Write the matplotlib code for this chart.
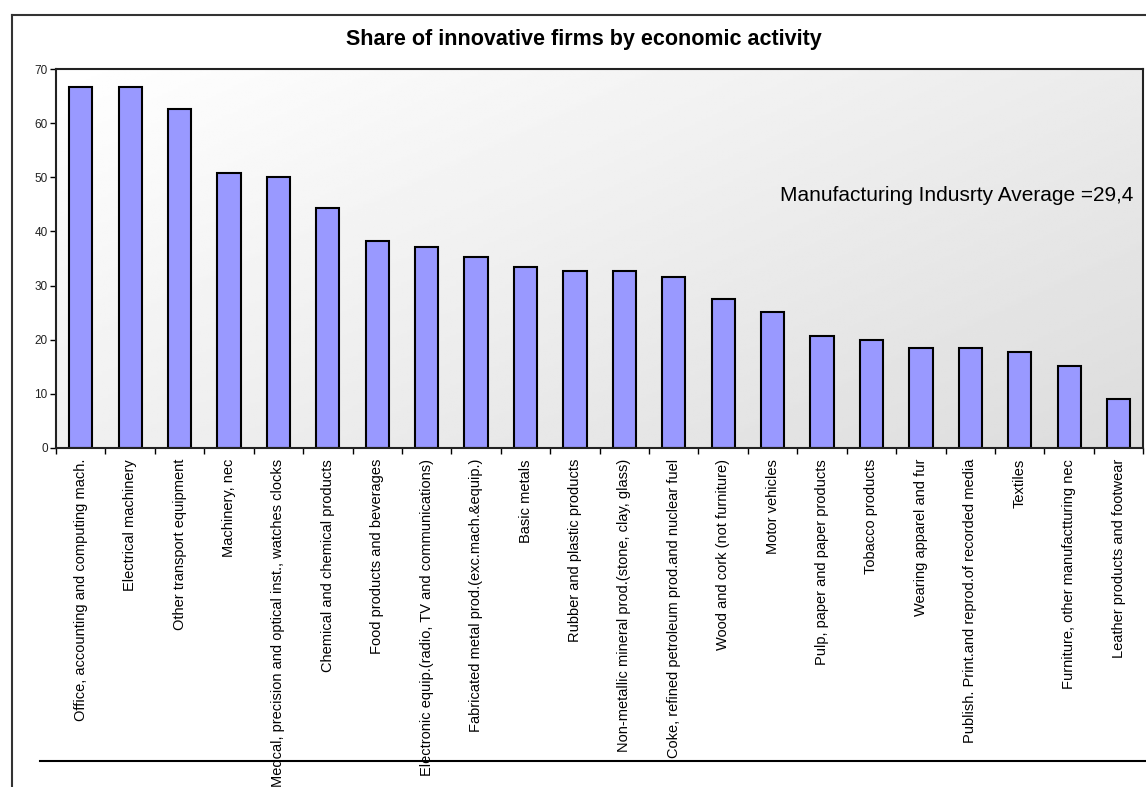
import numpy as np
import matplotlib.pyplot as plt
from matplotlib.lines import Line2D

plt.rcParams['font.family'] = ['Liberation Sans', 'DejaVu Sans']

# data
activities = [
    "Office, accounting and computing mach.",
    "Electrical machinery",
    "Other transport equipment",
    "Machinery, nec",
    "Medcal, precision and optical inst., watches clocks",
    "Chemical and chemical products",
    "Food products and beverages",
    "Electronic equip.(radio, TV and communications)",
    "Fabricated metal prod.(exc.mach.&equip.)",
    "Basic metals",
    "Rubber and plastic products",
    "Non-metallic mineral prod.(stone, clay, glass)",
    "Coke, refined petroleum prod.and nuclear fuel",
    "Wood and cork (not furniture)",
    "Motor vehicles",
    "Pulp, paper and paper products",
    "Tobacco products",
    "Wearing apparel and fur",
    "Publish. Print.and reprod.of recorded media",
    "Textiles",
    "Furniture, other manufactturing nec",
    "Leather products and footwear",
]
share = [66.6, 66.6, 62.6, 50.7, 50.0, 44.4, 38.2, 37.1, 35.2, 33.4, 32.6,
         32.6, 31.5, 27.5, 25.2, 20.7, 20.0, 18.5, 18.5, 17.8, 15.2, 9.0]
yticks = [0, 10, 20, 30, 40, 50, 60, 70]
title = "Share of innovative firms by economic activity"
note = "Manufacturing Indusrty Average =29,4"

fig = plt.figure(figsize=(11.46, 7.87), dpi=100)
ax = fig.add_axes([56/1146, 1-448/787, 1087.3/1146, 379/787])

# gradient background of the plot area
gx, gy = np.meshgrid(np.linspace(0, 1, 200), np.linspace(0, 1, 200))
shade = (255 - 20*gx - 15*gy) / 255.0
ax.imshow(shade, cmap='gray', vmin=0, vmax=1, extent=[0, 1, 0, 1],
          transform=ax.transAxes, aspect='auto', zorder=0, origin='upper')

x = np.arange(len(activities))
ax.bar(x, share, width=0.47, color='#9999ff', edgecolor='black',
       linewidth=1.5, zorder=2)

ax.set_xlim(-0.5, len(activities) - 0.5)
ax.set_ylim(0, 70)
ax.set_yticks(yticks)
ax.tick_params(axis='y', labelsize=8.5, length=4, width=1, direction='out', pad=2,
               labelcolor='#222222')

ax.set_xticks(x)
ax.set_xticklabels(activities, rotation=90, fontsize=10.5, va='top', ha='center')
ax.tick_params(axis='x', which='major', length=0, pad=8)
ax.set_xticks(np.arange(-0.5, len(activities)), minor=True)
ax.tick_params(axis='x', which='minor', length=4, width=1, direction='out')

for s in ax.spines.values():
    s.set_color('#222222')
    s.set_linewidth(1.5)

ax.text(0.9905, 0.6675, note, transform=ax.transAxes, ha='right', va='center',
        fontsize=15)

fig.text(584/1146, 1-40/787, title, ha='center', va='center',
         fontsize=15.5, fontweight='bold')

# outer chart frame and bottom rule
fig.add_artist(Line2D([12/1146, 12/1146], [0, 1-15/787], color='#333333', lw=1.5))
fig.add_artist(Line2D([12/1146, 1], [1-15/787, 1-15/787], color='#333333', lw=1.5))
fig.add_artist(Line2D([40/1146, 1], [1-761/787, 1-761/787], color='black', lw=1.5))

fig.savefig('out.png', dpi=100)
